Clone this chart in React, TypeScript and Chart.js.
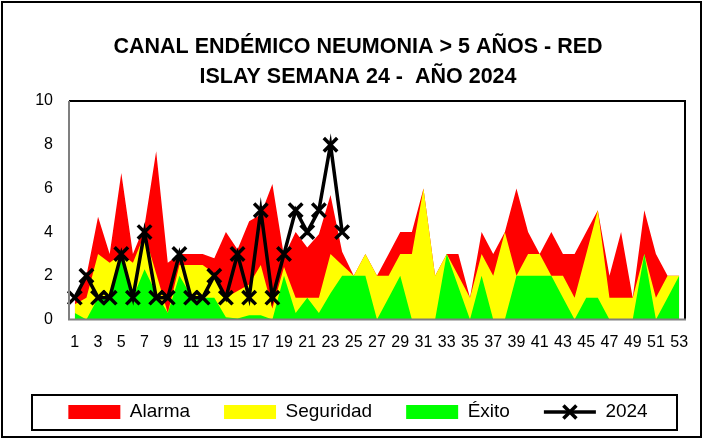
import React, { useEffect, useRef } from "react";
import { Chart, registerables } from "chart.js";

Chart.register(...registerables);

const semanas = [
  "1", "2", "3", "4", "5", "6", "7", "8", "9", "10",
  "11", "12", "13", "14", "15", "16", "17", "18", "19", "20",
  "21", "22", "23", "24", "25", "26", "27", "28", "29", "30",
  "31", "32", "33", "34", "35", "36", "37", "38", "39", "40",
  "41", "42", "43", "44", "45", "46", "47", "48", "49", "50",
  "51", "52", "53",
];

// upper limit of each zone (cumulative)
const alarma = [
  1, 2, 4.7, 3, 6.7, 3, 4.3, 7.7, 2.6, 3,
  3, 3, 2.8, 4, 3.2, 4.5, 4.8, 6.2, 2.9, 4,
  3.3, 3.9, 5.7, 3.1, 2, 3, 2, 3, 4, 4,
  6, 2, 3, 3, 1, 4, 3, 4, 6, 4,
  3, 4, 3, 3, 4, 5, 2, 4, 1, 5,
  3, 2, 2,
];
const seguridad = [
  0.7, 1, 3, 2.6, 3, 2.6, 3.9, 2.1, 0.3, 2.5,
  2.5, 2.5, 2.1, 1, 1.3, 1.6, 2.5, 0.5, 2.4, 1,
  1, 1, 3, 2.5, 2, 3, 2, 2, 3, 3,
  6, 2, 3, 2, 1, 3, 2, 4, 2, 3,
  3, 2, 2, 1, 3, 5, 1, 1, 1, 3,
  1, 2, 2,
];
const exito = [
  0.3, 0, 1, 1, 3, 1, 2.3, 1.2, 0.3, 2,
  1.1, 1, 1, 0.1, 0.05, 0.2, 0.2, 0, 2, 0.3,
  1, 0.3, 1.2, 2, 2, 2, 0, 1, 2, 0,
  0, 0, 3, 1.5, 0, 2, 0, 0, 2, 2,
  2, 2, 1, 0, 1, 1, 0, 0, 0, 3,
  0, 1, 2,
];
const casos2024 = [
  1, 2, 1, 1, 3, 1, 4, 1, 1, 3,
  1, 1, 2, 1, 3, 1, 5, 1, 3, 5,
  4, 5, 8, 4,
];

const titulo = ["CANAL ENDÉMICO NEUMONIA > 5 AÑOS - RED", "ISLAY SEMANA 24 -  AÑO 2024"];
const leyenda = ["Alarma", "Seguridad", "Éxito", "2024"];
const colores = ["#FF0000", "#FFFF00", "#00FF00", "#000000"];

const FONT = "'Liberation Sans', Arial, sans-serif";

const framePlugin = {
  id: "frame",
  beforeDraw(chart: any) {
    const ctx = chart.ctx;
    ctx.save();
    ctx.fillStyle = "#FFFFFF";
    ctx.fillRect(0, 0, chart.width, chart.height);
    ctx.restore();
  },
  afterDatasetsDraw(chart: any) {
    const { ctx, chartArea: a } = chart;
    ctx.save();
    ctx.lineWidth = 2;
    ctx.strokeStyle = "#000000";
    ctx.beginPath();
    ctx.moveTo(a.left, a.top);
    ctx.lineTo(a.right, a.top);
    ctx.lineTo(a.right, a.bottom);
    ctx.stroke();
    ctx.strokeStyle = "#7F7F7F";
    ctx.beginPath();
    ctx.moveTo(a.left, a.top);
    ctx.lineTo(a.left, a.bottom);
    ctx.lineTo(a.right + 1, a.bottom);
    ctx.stroke();
    ctx.restore();
  },
  afterDraw(chart: any) {
    const ctx = chart.ctx;
    ctx.save();
    ctx.strokeStyle = "#000000";
    ctx.lineWidth = 2;
    ctx.strokeRect(2, 2, 699, 435);
    ctx.strokeRect(32, 395, 645, 35);
    const hb = chart.legend && chart.legend.legendHitBoxes && chart.legend.legendHitBoxes[3];
    if (hb) {
      const cx = hb.left + 26;
      const cy = hb.top + hb.height / 2;
      const r = 6.5;
      ctx.lineWidth = 3.5;
      ctx.beginPath();
      ctx.moveTo(cx - r, cy - r);
      ctx.lineTo(cx + r, cy + r);
      ctx.moveTo(cx - r, cy + r);
      ctx.lineTo(cx + r, cy - r);
      ctx.stroke();
    }
    ctx.restore();
  },
};

export default function App() {
  const ref = useRef<HTMLCanvasElement | null>(null);

  useEffect(() => {
    document.body.style.margin = "0";
    const canvas = ref.current;
    if (!canvas) return;
    const area = (label: string, data: number[], color: string, order: number) => ({
      type: "line" as const,
      label,
      data,
      order,
      fill: "origin",
      backgroundColor: color,
      borderColor: color,
      borderWidth: 0,
      pointRadius: 0,
      tension: 0,
    });
    const chart = new Chart(canvas, {
      type: "line",
      data: {
        labels: semanas,
        datasets: [
          area(leyenda[0], alarma, colores[0], 3),
          area(leyenda[1], seguridad, colores[1], 2),
          area(leyenda[2], exito, colores[2], 1),
          {
            type: "line",
            label: leyenda[3],
            data: casos2024,
            order: 0,
            fill: false,
            borderColor: "#000000",
            borderWidth: 3.5,
            pointStyle: "crossRot",
            pointRadius: 9.5,
            pointBorderWidth: 3.5,
            pointBorderColor: "#000000",
            pointBackgroundColor: "#000000",
            tension: 0,
          } as any,
        ],
      },
      options: {
        responsive: false,
        animation: false,
        devicePixelRatio: 1,
        events: [],
        layout: { padding: { left: 31, right: 19, top: 0, bottom: 7.5 } },
        scales: {
          x: {
            type: "category",
            offset: true,
            grid: { display: false, drawTicks: false },
            border: { display: false },
            ticks: {
              autoSkip: false,
              maxRotation: 0,
              minRotation: 0,
              padding: 13,
              color: "#000000",
              font: { family: FONT, size: 16 },
              callback: function (this: any, val: any, idx: number) {
                return idx % 2 === 0 ? semanas[idx] : "";
              },
            },
            afterFit: (scale: any) => {
              scale.height = 49;
            },
          },
          y: {
            type: "linear",
            min: 0,
            max: 10,
            grid: { display: false, drawTicks: false },
            border: { display: false },
            ticks: {
              stepSize: 2,
              padding: 16,
              color: "#000000",
              font: { family: FONT, size: 16 },
            },
            afterFit: (scale: any) => {
              scale.width = 38;
            },
          },
        },
        plugins: {
          tooltip: { enabled: false },
          title: {
            display: true,
            text: titulo,
            color: "#000000",
            font: { family: FONT, size: 21.5, weight: "bold", lineHeight: 1.4 },
            padding: { top: 32, bottom: 8.8 },
          },
          legend: {
            display: true,
            position: "bottom",
            labels: {
              usePointStyle: true,
              pointStyleWidth: 52,
              boxHeight: 14,
              padding: 34,
              color: "#000000",
              font: { family: FONT, size: 19 },
              generateLabels: () =>
                leyenda.map((t, i) => ({
                  text: t,
                  fillStyle: colores[i],
                  strokeStyle: colores[i],
                  lineWidth: i === 3 ? 3.5 : 0,
                  pointStyle: i === 3 ? "line" : "rect",
                  hidden: false,
                  datasetIndex: i,
                  fontColor: "#000000",
                })),
            },
          },
        },
      } as any,
      plugins: [framePlugin],
    });
    return () => chart.destroy();
  }, []);

  return <canvas ref={ref} width={704} height={439} style={{ display: "block" }} />;
}
